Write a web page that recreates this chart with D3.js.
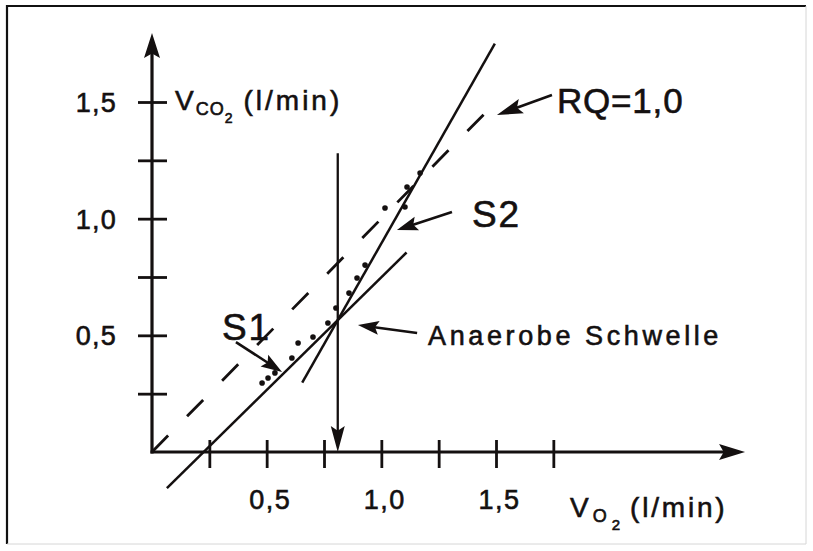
<!DOCTYPE html>
<html>
<head>
<meta charset="utf-8">
<script src="https://cdn.jsdelivr.net/npm/d3@7"></script>
<style>
  html, body { margin: 0; padding: 0; background: #fff; }
  svg { display: block; }
  text { font-family: "Liberation Sans", Arial, Helvetica, sans-serif; fill: #141010; stroke: #141010; stroke-width: 0.6px; }
</style>
</head>
<body>
<svg id="chart" width="813" height="551"></svg>
<script>
// ---------- data ----------
const xTickValues = [0.25, 0.5, 0.75, 1.0, 1.25, 1.5, 1.75];
const yTickValues = [0.25, 0.5, 0.75, 1.0, 1.25, 1.5];
const xLabelValues = [0.5, 1.0, 1.5];
const yLabelValues = [0.5, 1.0, 1.5];

// measured points (V'O2, V'CO2) in l/min
const pointsX = [0.48, 0.506, 0.536, 0.61, 0.637, 0.702, 0.767, 0.802, 0.859, 0.894, 0.929, 1.016, 1.103, 1.112, 1.169];
const pointsY = [0.296, 0.317, 0.339, 0.403, 0.467, 0.493, 0.553, 0.617, 0.681, 0.746, 0.801, 1.046, 1.05, 1.136, 1.196];

// regression line S1 (below threshold)
const s1X = [0.065, 1.11];
const s1Y = [-0.155, 0.855];
// regression line S2 (above threshold)
const s2X = [0.655, 1.495];
const s2Y = [0.297, 1.75];
// RQ = 1.0 reference line
const rqX = [0, 1.5];
const rqY = [0, 1.5];
// anaerobic threshold
const thresholdX = 0.81;
const thresholdTop = 1.28;

// axis extents (arrow tips)
const xAxisMax = 2.586;
const yAxisMax = 1.796;

// annotations: text and arrow (from -> to) in data units
const annoLabels = ["S1", "S2", "Anaerobe Schwelle", "RQ=1,0"];
const annoTextX = [0.305, 1.395, 1.204, 1.766];
const annoTextY = [0.48, 0.964, 0.459, 1.453];
const annoFromX = [0.366, 1.308, 1.156, 1.744];
const annoFromY = [0.471, 1.029, 0.510, 1.530];
const annoToX = [0.567, 1.068, 0.898, 1.504];
const annoToY = [0.343, 0.951, 0.544, 1.444];

// ---------- setup ----------
const svg = d3.select("#chart");
const ink = "#141010";
const x = d3.scaleLinear().domain([0, 1.5]).range([152, 496]);
const y = d3.scaleLinear().domain([0, 1.5]).range([452, 102]);
const locale = d3.formatLocale({decimal: ",", thousands: ".", grouping: [3], currency: ["", "€"]});
const fmt = locale.format(".1f");

// frame
svg.append("line").attr("x1", 7).attr("y1", 6).attr("x2", 806).attr("y2", 6)
  .attr("stroke", "#111").attr("stroke-width", 2.2);
svg.append("line").attr("x1", 7).attr("y1", 5).attr("x2", 7).attr("y2", 544)
  .attr("stroke", "#111").attr("stroke-width", 2.2);
svg.append("line").attr("x1", 806).attr("y1", 6).attr("x2", 806).attr("y2", 544)
  .attr("stroke", "#d6d6d6").attr("stroke-width", 1);
svg.append("line").attr("x1", 7).attr("y1", 544).attr("x2", 806).attr("y2", 544)
  .attr("stroke", "#d6d6d6").attr("stroke-width", 1);

function arrowHead(x1, y1, x2, y2, len, half) {
  const dx = x2 - x1, dy = y2 - y1, L = Math.hypot(dx, dy);
  const ux = dx / L, uy = dy / L;
  const bx = x2 - ux * len, by = y2 - uy * len;
  const px = -uy, py = ux;
  return `M${x2},${y2}L${bx + px * half},${by + py * half}L${bx + ux * len * 0.18},${by + uy * len * 0.18}L${bx - px * half},${by - py * half}Z`;
}

// ---------- axes ----------
const gx = svg.append("g").attr("transform", `translate(0,${y(0)})`);
gx.call(d3.axisBottom(x).tickValues(xTickValues).tickSize(16).tickSizeOuter(0)
  .tickFormat(d => xLabelValues.includes(d) ? fmt(d) : ""));
gx.select(".domain").remove();
gx.selectAll(".tick line").attr("y1", -12).attr("y2", 16).attr("stroke", ink).attr("stroke-width", 2.8);
gx.selectAll(".tick text").attr("y", 57).attr("dy", 0).attr("dx", 3)
  .style("font-size", "27px").style("letter-spacing", "1.5px").attr("fill", ink);

const gy = svg.append("g").attr("transform", `translate(${x(0)},0)`);
gy.call(d3.axisLeft(y).tickValues(yTickValues).tickSize(13).tickSizeOuter(0)
  .tickFormat(d => yLabelValues.includes(d) ? fmt(d) : ""));
gy.select(".domain").remove();
gy.selectAll(".tick line").attr("x1", 15).attr("x2", -14).attr("stroke", ink).attr("stroke-width", 2.8);
gy.selectAll(".tick text").attr("x", -35).attr("dy", "0.35em")
  .style("font-size", "27px").style("letter-spacing", "1.2px").attr("fill", ink);

// axis lines with arrows
svg.append("line").attr("x1", x(0) - 1.5).attr("y1", y(0)).attr("x2", x(xAxisMax) - 20).attr("y2", y(0))
  .attr("stroke", ink).attr("stroke-width", 3.2);
svg.append("path").attr("d", arrowHead(x(0), y(0), x(xAxisMax), y(0), 26, 8)).attr("fill", ink);
svg.append("line").attr("x1", x(0)).attr("y1", y(0) + 1.5).attr("x2", x(0)).attr("y2", y(yAxisMax) + 20)
  .attr("stroke", ink).attr("stroke-width", 3.2);
svg.append("path").attr("d", arrowHead(x(0), y(0), x(0), y(yAxisMax), 25, 8)).attr("fill", ink);

// axis titles
const yt = svg.append("text").attr("x", 175).attr("y", 110).style("font-size", "28px");
yt.append("tspan").text("V");
yt.append("tspan").attr("dx", 2).attr("dy", 5).style("font-size", "18px").style("letter-spacing", "1px").text("CO");
yt.append("tspan").attr("dy", 8).style("font-size", "14px").text("2");
yt.append("tspan").attr("dx", 11).attr("dy", -13).style("letter-spacing", "3px").text("(l/min)");

const xt = svg.append("text").attr("x", 570).attr("y", 517).style("font-size", "28px");
xt.append("tspan").text("V");
xt.append("tspan").attr("dx", 4).attr("dy", 5).style("font-size", "18px").text("O");
xt.append("tspan").attr("dx", 5).attr("dy", 8).style("font-size", "15px").text("2");
xt.append("tspan").attr("dx", 10).attr("dy", -13).style("letter-spacing", "2.8px").text("(l/min)");

// ---------- lines ----------
const line = d3.line().x(d => x(d[0])).y(d => y(d[1]));
svg.append("path").datum(d3.zip(rqX, rqY)).attr("d", line)
  .attr("fill", "none").attr("stroke", ink).attr("stroke-width", 2.8).attr("stroke-dasharray", "23,27");
svg.append("path").datum(d3.zip(s1X, s1Y)).attr("d", line)
  .attr("fill", "none").attr("stroke", ink).attr("stroke-width", 2.5);
svg.append("path").datum(d3.zip(s2X, s2Y)).attr("d", line)
  .attr("fill", "none").attr("stroke", ink).attr("stroke-width", 2.5);

// threshold vertical line with arrow
svg.append("line").attr("x1", x(thresholdX)).attr("y1", y(thresholdTop))
  .attr("x2", x(thresholdX)).attr("y2", y(0) - 20)
  .attr("stroke", ink).attr("stroke-width", 2.3);
svg.append("path").attr("d", arrowHead(x(thresholdX), y(thresholdTop), x(thresholdX), y(0), 26, 7)).attr("fill", ink);

// points
svg.append("g").selectAll("circle").data(d3.zip(pointsX, pointsY)).join("circle")
  .attr("cx", d => x(d[0])).attr("cy", d => y(d[1])).attr("r", 2.8).attr("fill", ink);

// ---------- annotations ----------
const sizes = [37, 37, 27, 35];
const spacing = [2, 2, 3.6, 0.8];
annoLabels.forEach((t, i) => {
  svg.append("text").attr("x", x(annoTextX[i])).attr("y", y(annoTextY[i]))
    .style("font-size", sizes[i] + "px").style("letter-spacing", spacing[i] + "px").text(t);
  const x1 = x(annoFromX[i]), y1 = y(annoFromY[i]), x2 = x(annoToX[i]), y2 = y(annoToY[i]);
  const len = i === 3 ? 26 : 21;
  const L = Math.hypot(x2 - x1, y2 - y1);
  svg.append("line").attr("x1", x1).attr("y1", y1)
    .attr("x2", x2 - (x2 - x1) / L * (len * 0.7)).attr("y2", y2 - (y2 - y1) / L * (len * 0.7))
    .attr("stroke", ink).attr("stroke-width", 2.6);
  svg.append("path").attr("d", arrowHead(x1, y1, x2, y2, len, i === 3 ? 7.5 : 7)).attr("fill", ink);
});
</script>
</body>
</html>
